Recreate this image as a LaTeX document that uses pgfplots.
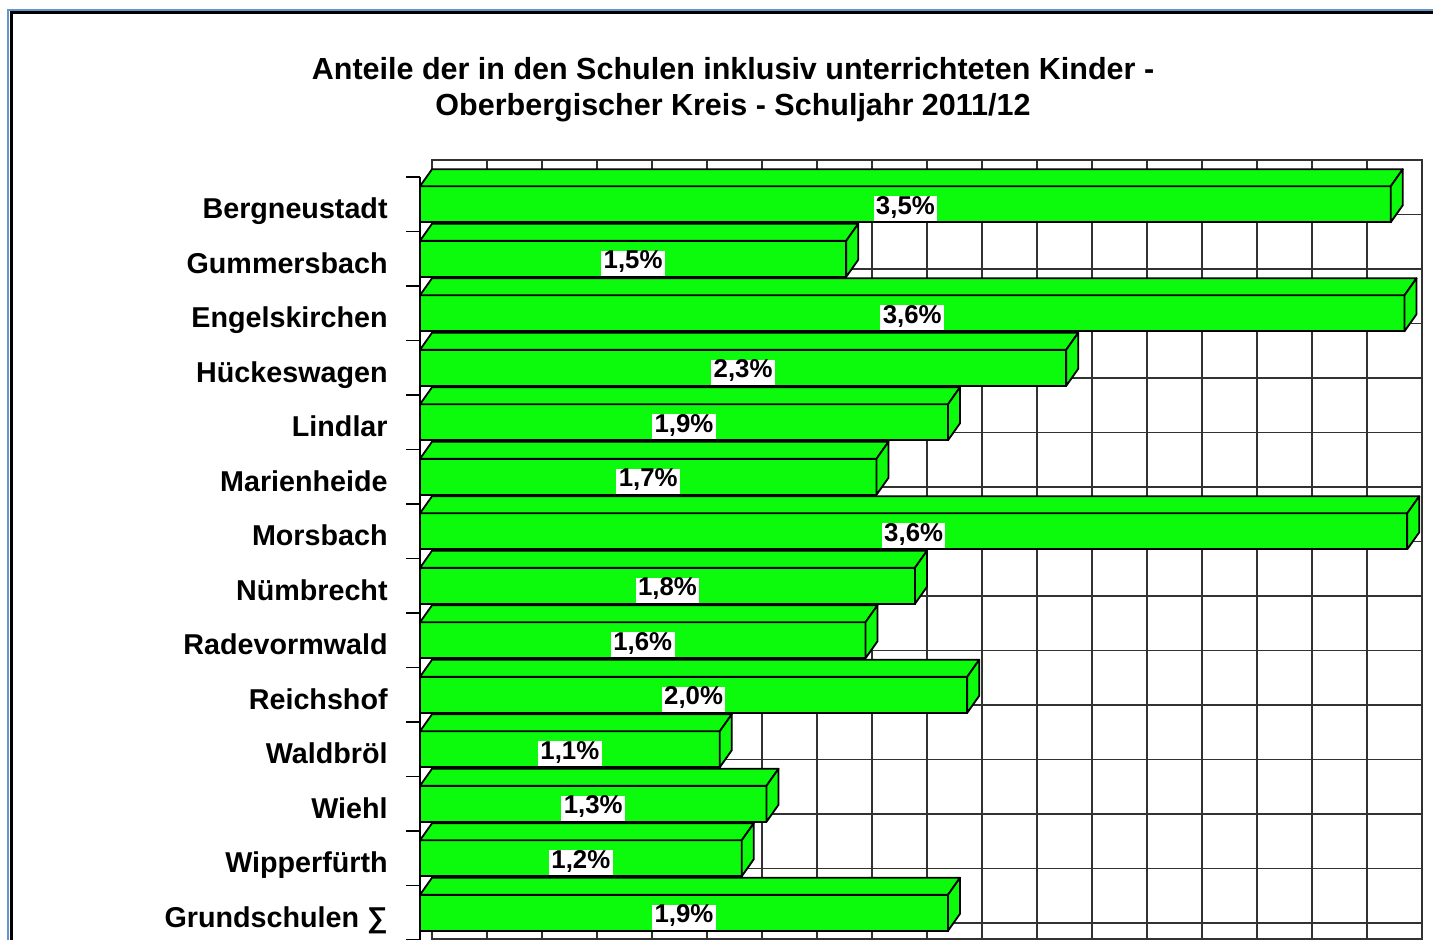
\documentclass[border=0pt]{standalone}
\usepackage{fontspec}
\setmainfont{Liberation Sans}
\usepackage{pgfplots}
\pgfplotsset{compat=1.18}
\usepackage{pgfplotstable}

\definecolor{barg}{RGB}{12,250,12}
\definecolor{gridc}{RGB}{50,50,50}
\definecolor{frameblue}{RGB}{100,150,205}

\pgfdeclareplotmark{nothing}{}

% Anteile in Prozent (Balkenlaenge abgelesen), lab = Beschriftung
\pgfplotstableread{
row v lab
0 3.53 3,5
1 1.55 1,5
2 3.58 3,6
3 2.35 2,3
4 1.92 1,9
5 1.66 1,7
6 3.59 3,6
7 1.80 1,8
8 1.62 1,6
9 1.99 2,0
10 1.09 1,1
11 1.26 1,3
12 1.17 1,2
13 1.92 1,9
}\anteile

\begin{document}
\begin{tikzpicture}[font=\bfseries]
\useasboundingbox (0pt,0pt) rectangle (716.5pt,-470pt);

% Rahmen
\draw[frameblue, line width=1.25pt] (4.1pt,-480pt) -- (4.1pt,-5pt) -- (730pt,-5pt);
\draw[black, line width=1.5pt] (5.5pt,-480pt) -- (5.5pt,-6.25pt) -- (730pt,-6.25pt);

\node[anchor=base, font=\bfseries\fontsize{15.25}{18}\selectfont] at (366.5pt,-40pt)
  {Anteile der in den Schulen inklusiv unterrichteten Kinder -};
\node[anchor=base, font=\bfseries\fontsize{15.25}{18}\selectfont] at (366.5pt,-58pt)
  {Oberbergischer Kreis - Schuljahr 2011/12};

% Rueckwand mit Gitter
\begin{axis}[
  at={(216pt,-80pt)}, anchor=north west,
  x=137.5pt, y=27.25pt, y dir=reverse,
  xmin=0, xmax=3.6, ymin=-0.5, ymax=13.8,
  xtick={0,0.2,...,3.6}, ytick={-0.5,0.5,...,13.5},
  xticklabels={}, yticklabels={},
  major tick length=0pt,
  grid=major,
  grid style={gridc, line width=0.85pt},
  axis line style={gridc, line width=1pt},
]
\end{axis}

% Balken
\begin{axis}[
  at={(210pt,-88.5pt)}, anchor=north west,
  x=137.5pt, y=27.25pt, y dir=reverse,
  xmin=0, xmax=3.6, ymin=-0.5, ymax=13.5,
  axis x line=none, axis y line*=left,
  axis line style={black, line width=0.9pt, -},
  xtick=\empty,
  ytick={0,...,13},
  yticklabels={Bergneustadt, Gummersbach, Engelskirchen, Hückeswagen, Lindlar,
    Marienheide, Morsbach, Nümbrecht, Radevormwald, Reichshof, Waldbröl,
    Wiehl, Wipperfürth, Grundschulen ∑},
  major tick length=0pt,
  yticklabel style={anchor=east, inner sep=0pt, xshift=-16pt, yshift=-4.6pt,
    font=\bfseries\fontsize{14.35}{16}\selectfont, text height=0.72em, text depth=0.21em},
  extra y ticks={-0.5,0.5,...,13.5},
  extra y tick labels={},
  extra y tick style={major tick length=7pt, tick align=outside,
    tick style={black, line width=0.8pt}},
  clip=false,
]
% Ober- und Seitenflaechen
\addplot[scatter, only marks, mark=nothing,
  visualization depends on={\thisrow{v} \as \val},
  scatter/@pre marker code/.code={%
    \pgfmathsetlengthmacro{\L}{\val*137.5pt}%
    \path[fill=barg, draw=black, line width=0.9pt, line join=round]
      (-\L,9pt) -- (0pt,9pt) -- (6pt,17.5pt) -- ({6pt-\L},17.5pt) -- cycle;
    \path[fill=barg, draw=black, line width=0.9pt, line join=round]
      (0pt,-9pt) -- (6pt,-0.5pt) -- (6pt,17.5pt) -- (0pt,9pt) -- cycle;
  },
  scatter/@post marker code/.code={},
] table[x=v, y=row] {\anteile};

% Vorderflaechen
\addplot[xbar, bar width=18pt, fill=barg, draw=black, line width=0.9pt]
  table[x=v, y=row] {\anteile};

% Werte
\addplot[only marks, mark=nothing, point meta=explicit symbolic,
  nodes near coords={\pgfplotspointmeta\%},
  nodes near coords align={center},
  every node near coord/.append style={anchor=center, fill=white, inner xsep=1.2pt,
    inner ysep=2pt, yshift=-2.2pt, text=black, font=\bfseries\fontsize{12.9}{14}\selectfont,
    text height=0.72em, text depth=0.14em},
] table[x expr=\thisrow{v}/2, y=row, meta=lab] {\anteile};
\end{axis}
\end{tikzpicture}
\end{document}
